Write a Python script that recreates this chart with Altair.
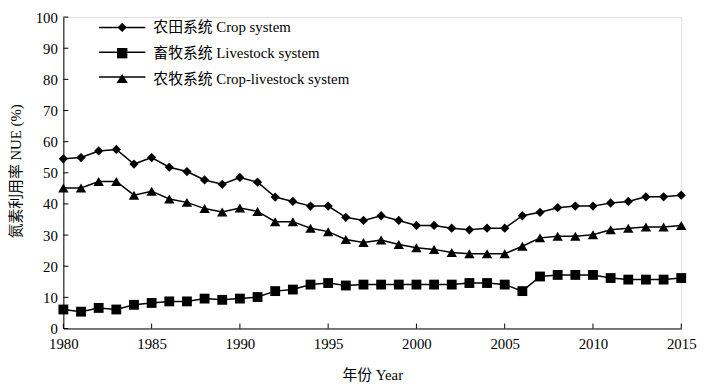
import altair as alt
import pandas as pd

years = list(range(1980, 2016))

crop = [54.5, 54.9, 57.0, 57.5, 52.8, 54.9, 51.8, 50.4, 47.7, 46.3,
        48.5, 47.0, 42.2, 40.8, 39.3, 39.3, 35.7, 34.7, 36.2, 34.7,
        33.1, 33.1, 32.2, 31.7, 32.2, 32.2, 36.2, 37.3, 38.8, 39.3,
        39.3, 40.3, 40.8, 42.3, 42.3, 42.8]
livestock = [6.1, 5.4, 6.6, 6.1, 7.6, 8.2, 8.7, 8.7, 9.6, 9.2,
             9.6, 10.1, 12.0, 12.5, 14.1, 14.6, 13.8, 14.1, 14.1, 14.1,
             14.1, 14.1, 14.1, 14.6, 14.6, 14.1, 12.0, 16.7, 17.2, 17.2,
             17.2, 16.2, 15.7, 15.7, 15.7, 16.2]
crop_livestock = [45.1, 45.1, 47.2, 47.2, 42.8, 44.1, 41.6, 40.5, 38.5, 37.4,
                  38.7, 37.6, 34.3, 34.3, 32.2, 31.1, 28.6, 27.6, 28.4, 27.0,
                  25.9, 25.4, 24.4, 24.0, 24.0, 24.0, 26.4, 29.1, 29.6, 29.6,
                  30.1, 31.7, 32.2, 32.6, 32.6, 33.1]

series_names = ["农田系统 Crop system", "畜牧系统 Livestock system", "农牧系统 Crop-livestock system"]
x_ticks = [1980, 1985, 1990, 1995, 2000, 2005, 2010, 2015]
y_ticks = [0, 10, 20, 30, 40, 50, 60, 70, 80, 90, 100]

FONT = "Liberation Serif, Noto Sans CJK SC, serif"

rows = []
for name, vals in zip(series_names, [crop, livestock, crop_livestock]):
    for yr, v in zip(years, vals):
        rows.append({"year": yr, "series": name, "line_key": "L-" + name, "value": v})
df = pd.DataFrame(rows)
line_keys = ["L-" + n for n in series_names]

W, H = 625, 315

xscale = alt.Scale(domain=[1980, 2015], nice=False, zero=False)
yscale = alt.Scale(domain=[0, 100], nice=False)

x_axis = alt.Axis(values=x_ticks, format="d", ticks=False, tickSize=0,
                  labelPadding=8, labelFlush=False, labelOverlap=False,
                  grid=False, domainColor="black", labelColor="black",
                  labelFontSize=15, labelFont=FONT,
                  title="年份 Year", titleFontSize=15, titleFont=FONT,
                  titleFontWeight="normal", titleColor="black",
                  titleBaseline="middle", titleY=47, titleX=W / 2)
y_axis = alt.Axis(values=y_ticks, tickCount=11, ticks=False, tickSize=0,
                  labelPadding=6, labelOverlap=False, grid=False,
                  domainColor="black", labelColor="black",
                  labelFontSize=15, labelFont=FONT,
                  title="氮素利用率 NUE (%)", titleFontSize=15, titleFont=FONT,
                  titleFontWeight="normal", titleColor="black",
                  titleAngle=-90, titleBaseline="middle",
                  titleX=-48, titleY=H / 2 - 2, titleAlign="center")

legend_common = dict(title=None, orient="none", legendX=52, legendY=3,
                     symbolSize=100, symbolStrokeWidth=1.5, symbolOpacity=1,
                     labelFont=FONT, labelFontSize=15, labelLimit=400,
                     labelOffset=24, rowPadding=9, padding=0)

line = alt.Chart(df).mark_line(strokeWidth=1.5).encode(
    x=alt.X("year:Q", scale=xscale, axis=x_axis),
    y=alt.Y("value:Q", scale=yscale, axis=y_axis),
    color=alt.Color("line_key:N",
                    scale=alt.Scale(domain=line_keys, range=["black", "black", "black"]),
                    legend=alt.Legend(symbolType="M-4.7,0L4.7,0",
                                      symbolStrokeColor="black",
                                      labelColor="black", labelExpr="''",
                                      **legend_common)),
)

pts = alt.Chart(df).mark_point(filled=True, color="black", opacity=1).encode(
    x=alt.X("year:Q", scale=xscale, axis=x_axis),
    y=alt.Y("value:Q", scale=yscale, axis=y_axis),
    shape=alt.Shape("series:N", scale=alt.Scale(domain=series_names,
                    range=["diamond", "square", "triangle-up"]), legend=None),
    size=alt.Size("series:N", scale=alt.Scale(domain=series_names,
                  range=[88, 110, 135]), legend=None),
)

leg_paths = [
    "M0,-0.94L0.94,0L0,0.94L-0.94,0Z",
    "M-1.05,-1.05L1.05,-1.05L1.05,1.05L-1.05,1.05Z",
    "M0,-1.0L-1.15,0.85L1.15,0.85Z",
]
leg = alt.Chart(df).transform_filter("false").mark_point(
    filled=True, color="black", opacity=1).encode(
    x=alt.X("year:Q", scale=xscale, axis=x_axis),
    y=alt.Y("value:Q", scale=yscale, axis=y_axis),
    shape=alt.Shape("series:N", scale=alt.Scale(domain=series_names, range=leg_paths),
                    legend=alt.Legend(symbolFillColor="black", labelColor="black",
                                      **legend_common)),
)

ytick_df = pd.DataFrame({"v": y_ticks})
xtick_df = pd.DataFrame({"v": x_ticks})
yticks = alt.Chart(ytick_df).mark_rule(color="black", strokeWidth=1).encode(
    y=alt.Y("v:Q", scale=yscale, axis=y_axis), x=alt.value(0), x2=alt.value(5))
xticks = alt.Chart(xtick_df).mark_rule(color="black", strokeWidth=1).encode(
    x=alt.X("v:Q", scale=xscale, axis=x_axis), y=alt.value(H), y2=alt.value(H - 5))

chart = alt.layer(line, pts, leg, yticks, xticks).resolve_scale(
    shape="independent").properties(
    width=W, height=H,
    autosize=alt.AutoSizeParams(type="none"),
    padding={"left": 56, "top": 7, "right": 21, "bottom": 57},
).configure_view(stroke=None).configure(font=FONT, background="white")

chart.save("out.html", embed_options={"renderer": "svg", "actions": False})
